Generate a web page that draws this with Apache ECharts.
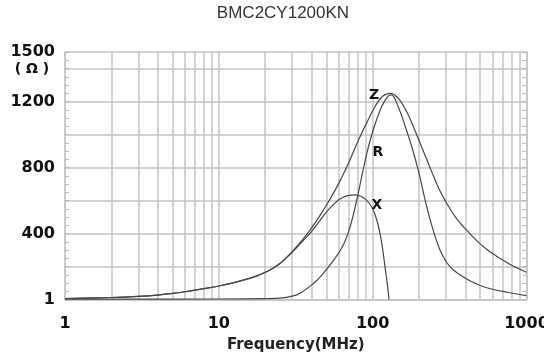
<!DOCTYPE html>
<html><head><meta charset="utf-8">
<script src="https://cdn.jsdelivr.net/npm/echarts@6/dist/echarts.min.js"></script>
<style>html,body{margin:0;padding:0;background:#fff}#c{width:544px;height:355px}</style>
</head><body><div id="c"></div>
<script>
// ---- data ----
const chartTitle = 'BMC2CY1200KN';
const xAxisName = 'Frequency(MHz)';
const yUnit = '( Ω )';
const minorFreqGrid = [2,3,4,5,6,7,8,9,20,30,40,50,60,70,80,90,200,300,400,500,600,700,800,900];
const yLabelValues = [0, 400, 800, 1200, 1500];
const yLabelTexts = ['1', '400', '800', '1200', '1500'];

const freqZ = [1,2,3,4,5,6,7,8,10,12,15,17.5,20,22.5,25,27.5,30,34,40,45.5,50,55.5,61.6,66,70,74.7,80,86,91.3,99,108.9,116,123,130,139,150,165,180,203,225,241,270,302,350,408,480,553,650,746,850,1000];
const valZ  = [6,12,19,27,37,47,57,66,82,98,122,142,165,190,220,255,290,347,432,510,571,643,722,779,831,892,956,1020,1069,1136,1202,1232,1245,1249,1240,1208,1145,1068,950,848,778,670,585,492,420,352,303,258,224,195,165];

const freqR = [1,10,20,25,30,34,41,45.5,55.5,64.4,71.3,78.7,86,91.3,101,114.5,126,132,147,163.5,180,198,225,250,274,300,325,350,420,500,600,746,1000];
const valR  = [2,3,5,8,20,40,95,135,235,330,440,600,770,880,1030,1170,1232,1240,1165,1044,923,782,560,405,300,230,190,165,118,85,62,44,24];

const freqX = [1,2,3,4,5,6,7,8,10,12,15,17.5,20,22.5,25,27.5,30,34,40,45.5,50,55.5,60,64.4,70,76.6,83,89.6,98.9,106.6,113.8,119.6,125.2,127.8];
const valX  = [6,12,19,27,37,47,57,66,82,98,122,142,164,189,218,252,286,340,412,480,530,575,603,620,631,634,627,608,559,479,358,216,75,0];

const curveLabels = ['Z', 'R', 'X'];

// ---- chart ----
const pair = (f, v) => f.map((x, i) => [x, v[i]]);
const GRID = '#c4c4c4';
const CURVE = '#474747';
const FONT = 'DejaVu Sans';
const chart = echarts.init(document.getElementById('c'), null, {renderer: 'canvas'});
const curve = (name, f, v) => ({
  name, type: 'line', data: pair(f, v), showSymbol: false, smooth: 0.4,
  lineStyle: {color: CURVE, width: 1.2}, z: 5, silent: true, animation: false
});
chart.setOption({
  animation: false,
  backgroundColor: '#fff',
  grid: {left: 65, right: 17.5, top: 52, bottom: 55.5, containLabel: false, outerBoundsMode: 'none'},
  xAxis: {
    type: 'log', logBase: 10, min: 1, max: 1000,
    name: xAxisName, nameLocation: 'middle', nameGap: 38,
    nameTextStyle: {fontFamily: FONT, fontWeight: 'bold', fontSize: 15, color: '#222'},
    axisLine: {show: true, lineStyle: {color: GRID, width: 1.5}},
    axisTick: {show: false},
    axisLabel: {fontFamily: FONT, fontWeight: 'bold', fontSize: 16, color: '#111', margin: 16, formatter: v => String(v)},
    splitLine: {show: true, lineStyle: {color: GRID, width: 1.5}}
  },
  yAxis: [{
    type: 'value', min: 0, max: 1500, interval: 200,
    axisLine: {show: true, lineStyle: {color: GRID, width: 1.5}},
    axisTick: {show: false},
    axisLabel: {
      fontFamily: FONT, fontWeight: 'bold', fontSize: 16, color: '#111', margin: 10,
      formatter: v => { const i = yLabelValues.indexOf(v); return i >= 0 ? yLabelTexts[i] : ''; }
    },
    splitLine: {show: true, lineStyle: {color: GRID, width: 1.5}}
  }, {
    type: 'value', min: 0, max: 1500, interval: 50, position: 'left',
    axisLine: {show: false}, axisLabel: {show: false}, splitLine: {show: false},
    axisTick: {show: true, inside: true, length: 4, lineStyle: {color: '#bbb', width: 1}}
  }, {
    type: 'value', min: 0, max: 1500, interval: 50, position: 'right',
    axisLine: {show: true, lineStyle: {color: GRID, width: 1.5}}, axisLabel: {show: false}, splitLine: {show: false},
    axisTick: {show: true, inside: true, length: 4, lineStyle: {color: '#bbb', width: 1}}
  }],
  series: [
    {
      type: 'line', data: [], silent: true, z: 1,
      markLine: {
        silent: true, symbol: ['none', 'none'], label: {show: false}, animation: false,
        lineStyle: {color: GRID, width: 1.5, type: 'solid'},
        emphasis: {disabled: true},
        data: minorFreqGrid.map(v => ({xAxis: v}))
      }
    },
    curve('Z', freqZ, valZ),
    curve('R', freqR, valR),
    curve('X', freqX, valX)
  ],
  graphic: [
    {type: 'text', x: 283, y: 13, style: {text: chartTitle, font: '17px "Liberation Sans", Arial, sans-serif', fill: '#333', align: 'center', verticalAlign: 'middle'}},
    {type: 'text', x: 32, y: 69, style: {text: yUnit, font: 'bold 14px "DejaVu Sans"', fill: '#111', align: 'center', verticalAlign: 'middle'}},
    {type: 'text', x: 374, y: 95, style: {text: curveLabels[0], font: 'bold 14px "DejaVu Sans"', fill: '#111', align: 'center', verticalAlign: 'middle'}, z: 10},
    {type: 'text', x: 378, y: 152, style: {text: curveLabels[1], font: 'bold 14px "DejaVu Sans"', fill: '#111', align: 'center', verticalAlign: 'middle'}, z: 10},
    {type: 'text', x: 377, y: 205, style: {text: curveLabels[2], font: 'bold 14px "DejaVu Sans"', fill: '#111', align: 'center', verticalAlign: 'middle'}, z: 10}
  ]
});
</script>
</body></html>
